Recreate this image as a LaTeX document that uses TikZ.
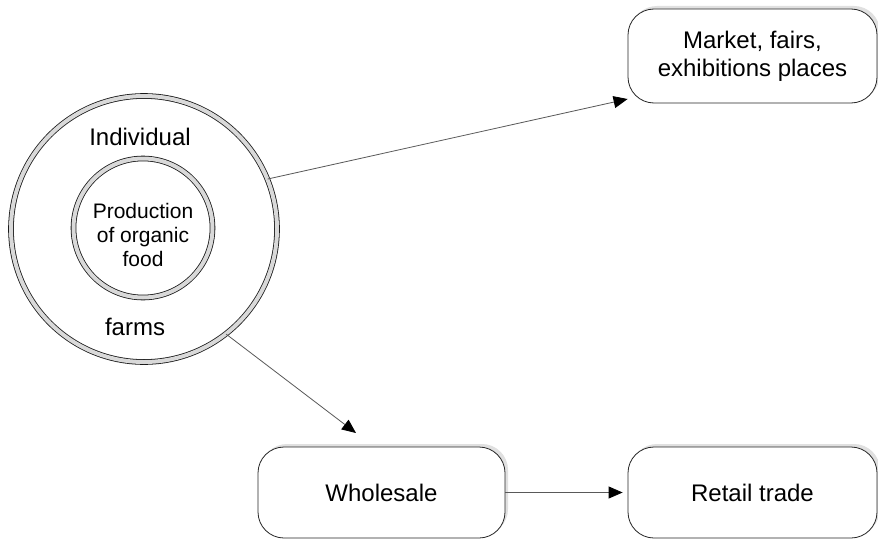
\documentclass[tikz,border=0pt]{standalone}
\usepackage{fontspec}
\setmainfont{Liberation Sans}
\usetikzlibrary{arrows.meta,shadows}
\tikzset{
  ring/.style={circle, draw=black!90, line width=0.8pt, double=black!15, double distance=4pt, inner sep=0pt},
  rbox/.style={draw=black!85, line width=0.8pt, rounded corners=26pt, fill=white, align=center,
    font=\fontsize{24}{28}\selectfont,
    general shadow={shadow xshift=3pt, shadow yshift=3pt, fill=black!12}},
  lbl/.style={font=\fontsize{24}{28}\selectfont, inner sep=0pt},
  ilbl/.style={font=\fontsize{21}{24}\selectfont, align=center, inner sep=0pt},
  arr/.style={draw=black!65, line width=0.8pt, -{Triangle[length=14pt,width=12pt,fill=black,color=black]}}
}
\begin{document}
\begin{tikzpicture}[x=1pt,y=-1pt]
\useasboundingbox[fill=white] (0,0) rectangle (878,543);
\node[ring, minimum size=266pt] (outer) at (144,229) {};
\node[ring, minimum size=139pt] (inner) at (143,228) {};
\node[lbl] (ind) at (140,137) {Individual};
\node[lbl] (farms) at (135,327) {farms};
\node[ilbl] (prod) at (143,235) {Production\\of organic\\food};
\node[rbox, minimum width=249pt, minimum height=94pt] (market) at (752.5,56) {Market, fairs,\\exhibitions places};
\node[rbox, minimum width=247pt, minimum height=91pt] (whole) at (381.5,492.5) {Wholesale};
\node[rbox, minimum width=249pt, minimum height=91pt] (retail) at (752.5,492.5) {Retail trade};
\coordinate (wtop) at (356,433);
\draw[arr] (outer.22) -- (market.199);
\draw[arr] (outer.-52) -- (wtop);
\draw[arr] (whole.east) -- ([xshift=-5pt]retail.west);
\end{tikzpicture}
\end{document}
